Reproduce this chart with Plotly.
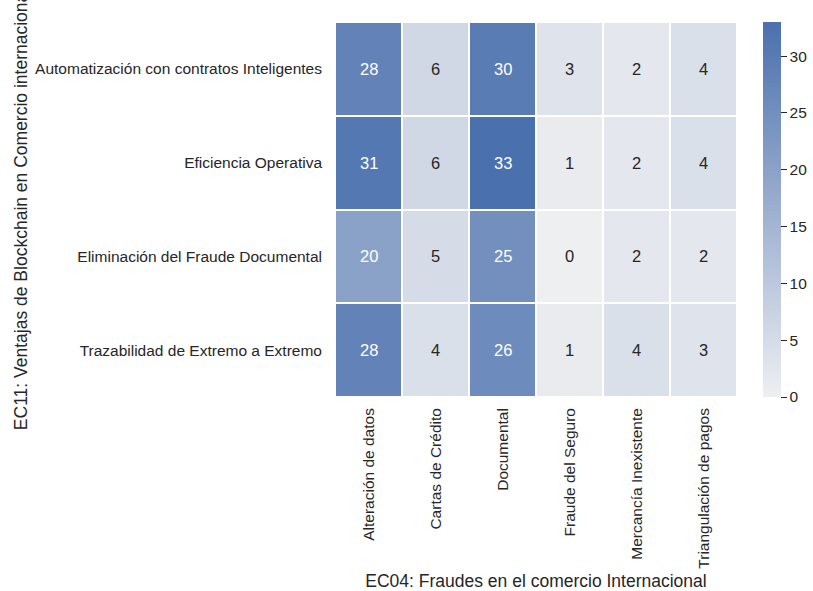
import plotly.graph_objects as go

fraudes = ["Alteración de datos", "Cartas de Crédito", "Documental",
           "Fraude del Seguro", "Mercancía Inexistente", "Triangulación de pagos"]
ventajas = ["Automatización con contratos Inteligentes", "Eficiencia Operativa",
            "Eliminación del Fraude Documental", "Trazabilidad de Extremo a Extremo"]
conteos = [
    [28, 6, 30, 3, 2, 4],
    [31, 6, 33, 1, 2, 4],
    [20, 5, 25, 0, 2, 2],
    [28, 4, 26, 1, 4, 3],
]
cbar_ticks = [0, 5, 10, 15, 20, 25, 30]

zmax = max(max(r) for r in conteos)
font_family = "Liberation Sans, Arial, sans-serif"
ink = "#262626"

fig = go.Figure(go.Heatmap(
    z=conteos, x=fraudes, y=ventajas,
    colorscale=[[0, "#eeeff1"], [1, "#4a70ae"]],
    zmin=0, zmax=zmax,
    xgap=2, ygap=2,
    hoverongaps=False,
    colorbar=dict(
        thickness=18, len=375, lenmode="pixels",
        x=1.0647, xanchor="left", y=0.5, yanchor="middle",
        xpad=0, ypad=0, outlinewidth=0,
        tickvals=cbar_ticks, ticks="outside", ticklen=6, tickwidth=1.2,
        tickcolor=ink,
        tickfont=dict(size=15.5, color=ink, family=font_family),
    ),
))

annotations = []
for i, fila in enumerate(conteos):
    for j, v in enumerate(fila):
        annotations.append(dict(
            x=fraudes[j], y=ventajas[i], text=str(v), showarrow=False,
            font=dict(size=16.5, family=font_family,
                      color="white" if v >= 0.45 * zmax else ink),
        ))

fig.update_layout(
    width=813, height=591,
    margin=dict(l=335, r=76, t=22, b=194, autoexpand=False),
    paper_bgcolor="white", plot_bgcolor="white",
    font=dict(family=font_family, color=ink),
    annotations=annotations,
    xaxis=dict(
        tickangle=-90, tickfont=dict(size=15.5), showgrid=False, zeroline=False,
        ticklabelstandoff=7,
        title=dict(text="EC04: Fraudes en el comercio Internacional",
                   font=dict(size=17.5), standoff=7),
    ),
    yaxis=dict(
        autorange="reversed", tickfont=dict(size=15.5), showgrid=False,
        zeroline=False, ticklabelstandoff=12,
        title=dict(text="EC11: Ventajas de Blockchain en Comercio internacional",
                   font=dict(size=17.5), standoff=2),
    ),
)

fig.write_html("out.html")
